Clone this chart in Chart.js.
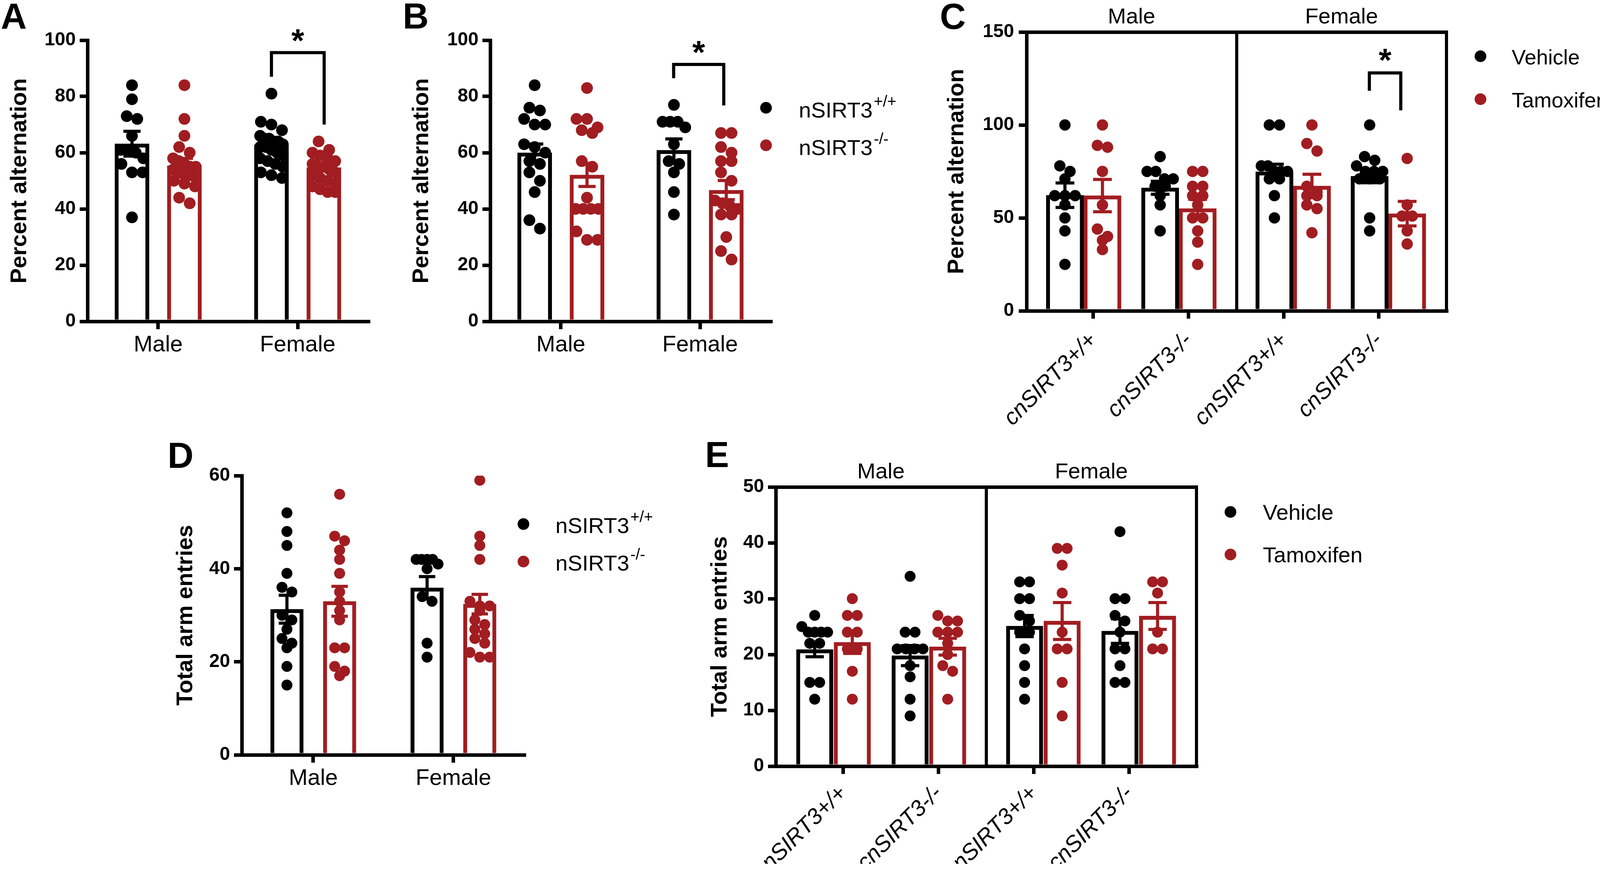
<!DOCTYPE html>
<html>
<head>
<meta charset="utf-8">
<script src="https://cdn.jsdelivr.net/npm/chart.js@4.4.1/dist/chart.umd.min.js"></script>
<style>
  html, body { margin: 0; padding: 0; background: #fff; }
  body { width: 4130px; height: 2256px; position: relative; overflow: hidden; font-family: 'Liberation Sans', Arial, sans-serif; }
  canvas { position: absolute; }
  .tag { position: absolute; font-weight: bold; font-size: 92px; line-height: 1; color: #000; }
</style>
</head>
<body>
<canvas id="chartA" style="left:0px;top:0px" width="960" height="960"></canvas>
<canvas id="chartB" style="left:1000px;top:0px" width="1340" height="960"></canvas>
<canvas id="chartC" style="left:2380px;top:0px" width="1750" height="1150"></canvas>
<canvas id="chartD" style="left:400px;top:1100px" width="1340" height="1100"></canvas>
<canvas id="chartE" style="left:1760px;top:1100px" width="1900" height="1156"></canvas>
<div class="tag" style="left:2px;top:-5px">A</div>
<div class="tag" style="left:1031px;top:-5px">B</div>
<div class="tag" style="left:2406px;top:-4px">C</div>
<div class="tag" style="left:429px;top:1120px">D</div>
<div class="tag" style="left:1805px;top:1118px">E</div>
<script>
const FONT = "'Liberation Sans', Arial, sans-serif";
const BLACK = '#000000';
const RED = '#a11d21';
Chart.defaults.font.family = FONT;
Chart.defaults.color = BLACK;

// ---------- labels ----------
const sexLabels = ['Male', 'Female'];
const genoLabels = ['cnSIRT3+/+', 'cnSIRT3-/-', 'cnSIRT3+/+', 'cnSIRT3-/-'];
const nLegend = ['nSIRT3', 'nSIRT3'];
const nLegendSup = ['+/+', '-/-'];
const cnLegend = ['Vehicle', 'Tamoxifen'];

// ---------- A: percent alternation, nSIRT3 (male, female) ----------
const aWtMean = [63.2, 62.8];
const aWtSem = [4.4, 1.3];
const aKoMean = [55.4, 54.7];
const aKoSem = [2.6, 1.2];
const aWtDots = [
  [84, 79, 73, 72, 66, 61, 61, 60, 58, 56, 53, 53, 37],
  [81, 71, 70, 68, 66, 65, 65, 64, 64, 63, 62, 62, 61, 60, 59, 58, 57, 56, 55, 53, 52, 51],
];
const aKoDots = [
  [84, 72, 66, 62, 60, 58, 57, 56, 55, 55, 54, 53, 52, 52, 51, 50, 49, 48, 44, 42],
  [64, 61, 60, 59, 58, 57, 56, 55, 55, 54, 53, 52, 51, 50, 49, 48, 47, 46, 46],
];
const aSig = { x1: 0.812, x2: 1.19, top: 95.6, left: 87, right: 70, star: 102.2 };

// ---------- B: percent alternation, nSIRT3 second cohort ----------
const bWtMean = [60.0, 60.9];
const bWtSem = [3.1, 4.0];
const bKoMean = [52.1, 46.7];
const bKoSem = [4.1, 3.4];
const bWtDots = [
  [84, 76, 75, 72, 70, 70, 63, 62, 60, 57, 56, 53, 50, 46, 36, 33],
  [77, 71, 71, 71, 69, 63, 57, 56, 53, 46, 38],
];
const bKoDots = [
  [83, 72, 72, 69, 68, 67, 57, 55, 44, 40, 40, 40, 40, 32, 29, 29],
  [67, 67, 62, 60, 57, 57, 53, 50, 43, 42, 41, 40, 38, 38, 30, 25, 22],
];
const bSig = { x1: 0.81, x2: 1.17, top: 91.4, left: 86.5, right: 76.8, star: 98.0 };

// ---------- C: percent alternation, cnSIRT3 vehicle / tamoxifen ----------
const cVehMean = [62.2, 66.2, 74.9, 72.4];
const cVehSem = [6.6, 3.5, 4.0, 3.5];
const cTamMean = [62.0, 55.1, 67.2, 52.3];
const cTamSem = [8.7, 4.9, 6.3, 6.6];
const cVehDots = [
  [100, 78, 75, 71, 62, 62, 62, 57, 50, 43, 25],
  [83, 75, 75, 71, 71, 67, 67, 62, 57, 43],
  [100, 100, 78, 78, 75, 75, 75, 71, 71, 62, 50],
  [100, 83, 81, 78, 75, 75, 75, 71, 71, 71, 50, 43],
];
const cTamDots = [
  [100, 89, 88, 75, 57, 44, 40, 38, 33],
  [75, 75, 67, 67, 62, 62, 57, 50, 50, 43, 37, 25],
  [100, 90, 86, 67, 64, 62, 62, 57, 55, 42],
  [82, 57, 51, 51, 43, 36],
];
const cSig = { x1: 2.90, x2: 3.23, top: 128, left: 118.4, right: 107.9, star: 138.5 };

// ---------- D: total arm entries, nSIRT3 ----------
const dWtMean = [31.3, 35.9];
const dWtSem = [3.0, 2.4];
const dKoMean = [33.0, 32.4];
const dKoSem = [3.2, 2.1];
const dWtDots = [
  [52, 48, 45, 39, 36, 35, 30, 29, 27, 25, 24, 23, 19, 15],
  [42, 42, 42, 42, 41, 40, 34, 33, 24, 21],
];
const dKoDots = [
  [56, 47, 46, 44, 42, 39, 35, 33, 31, 29, 23, 23, 19, 18, 17],
  [59, 47, 45, 42, 33, 32, 32, 31, 29, 28, 27, 26, 25, 24, 22, 21, 21],
];

// ---------- E: total arm entries, cnSIRT3 ----------
const eVehMean = [20.9, 19.8, 25.1, 24.2];
const eVehSem = [1.3, 1.8, 1.9, 2.2];
const eTamMean = [22.2, 21.4, 26.0, 26.9];
const eTamSem = [2.0, 1.5, 3.3, 2.4];
const eVehDots = [
  [27, 25, 24, 24, 24, 24, 22, 22, 15, 15, 12],
  [34, 24, 24, 21, 21, 21, 21, 18, 16, 12, 9],
  [33, 33, 30, 30, 27, 26, 24, 24, 21, 18, 15, 12],
  [42, 30, 30, 27, 26, 24, 21, 21, 18, 15, 15],
];
const eTamDots = [
  [30, 27, 27, 24, 24, 21, 21, 17, 12],
  [27, 26, 26, 24, 24, 24, 22, 20, 18, 17, 12],
  [39, 39, 36, 31, 24, 21, 21, 15, 9],
  [33, 33, 31, 24, 21, 21],
];

// bar centres on the x axis (side -1 = black, +1 = red)
const pos2 = (side) => sexLabels.map((_, i) => i + side * 0.188);
const pos4 = (side) => genoLabels.map((_, i) => i + (i < 2 ? -0.1 : 0.1) + side * 0.197);

// ---------- plugins ----------
const errorBars = {
  id: 'errorBars',
  afterDatasetsDraw(chart, args, o) {
    const { ctx, scales: { y } } = chart;
    chart.data.datasets.forEach((ds, i) => {
      if (!ds.sem) return;
      const meta = chart.getDatasetMeta(i);
      ctx.save();
      ctx.strokeStyle = ds.borderColor;
      ctx.lineWidth = o.width;
      meta.data.forEach((bar, j) => {
        const m = ds.data[j].y;
        const s = ds.sem[j];
        const hi = y.getPixelForValue(m + s);
        const lo = y.getPixelForValue(m - s);
        const half = o.cap / 2;
        ctx.beginPath();
        ctx.moveTo(bar.x, hi); ctx.lineTo(bar.x, lo);
        ctx.moveTo(bar.x - half, hi); ctx.lineTo(bar.x + half, hi);
        ctx.moveTo(bar.x - half, lo); ctx.lineTo(bar.x + half, lo);
        ctx.stroke();
      });
      ctx.restore();
    });
  },
};

// bracket + star between two bars
const sigBracket = {
  id: 'sigBracket',
  afterDraw(chart, args, o) {
    if (o.top === undefined) return;
    const { ctx, scales: { x, y } } = chart;
    const x1 = x.getPixelForValue(o.x1);
    const x2 = x.getPixelForValue(o.x2);
    const top = y.getPixelForValue(o.top);
    ctx.save();
    ctx.strokeStyle = BLACK;
    ctx.lineWidth = 8;
    ctx.beginPath();
    ctx.moveTo(x1, y.getPixelForValue(o.left));
    ctx.lineTo(x1, top);
    ctx.lineTo(x2, top);
    ctx.lineTo(x2, y.getPixelForValue(o.right));
    ctx.stroke();
    ctx.fillStyle = BLACK;
    ctx.font = `bold 84px ${FONT}`;
    ctx.textAlign = 'center';
    ctx.textBaseline = 'alphabetic';
    ctx.fillText('*', (x1 + x2) / 2, y.getPixelForValue(o.star) + 0.546 * 84);
    ctx.restore();
  },
};

// dot legend beside the plot, with optional superscript
const sideLegend = {
  id: 'sideLegend',
  afterDraw(chart, args, o) {
    if (!o.labels) return;
    const { ctx, chartArea } = chart;
    const x = chartArea.right + o.dx;
    o.labels.forEach((label, i) => {
      const y = chartArea.top + o.ys[i];
      ctx.save();
      ctx.fillStyle = o.colors[i];
      ctx.beginPath();
      ctx.arc(x, y, o.r, 0, Math.PI * 2);
      ctx.fill();
      ctx.fillStyle = BLACK;
      ctx.font = `${o.size}px ${FONT}`;
      ctx.textBaseline = 'alphabetic';
      const tx = x + o.textDx;
      const ty = y + o.baseDy;
      ctx.fillText(label, tx, ty);
      if (o.sups) {
        const w = ctx.measureText(label).width;
        ctx.font = `${o.supSize}px ${FONT}`;
        ctx.fillText(o.sups[i], tx + w + 3, ty - o.size * 0.5);
      }
      ctx.restore();
    });
  },
};

// ---------- axes ----------
function yAxis(max, step, title, width, pad) {
  return {
    min: 0,
    max: max,
    afterFit: (s) => { s.width = width; s.paddingTop = 0; s.paddingBottom = 0; },
    ticks: { stepSize: step, padding: pad, font: { size: 48, weight: 'bold' } },
    grid: { drawOnChartArea: false, tickLength: 20, lineWidth: 9, color: BLACK },
    border: { color: BLACK, width: 9 },
    title: { display: true, text: title, padding: 0, font: { size: 58, weight: 'bold' } },
  };
}

function xAxis(min, max, labels, height, rotate, pad) {
  return {
    type: 'linear',
    min: min,
    max: max,
    offset: false,
    afterBuildTicks: (s) => { s.ticks = labels.map((_, i) => ({ value: i })); },
    afterFit: (s) => { s.height = height; s.paddingLeft = 0; s.paddingRight = 0; },
    ticks: {
      autoSkip: false,
      padding: pad,
      minRotation: rotate,
      maxRotation: rotate,
      callback: (v) => labels[v],
      font: rotate ? { size: 58, style: 'italic' } : { size: 58 },
    },
    grid: { offset: false, drawOnChartArea: false, tickLength: 20, lineWidth: 9, color: BLACK },
    border: { color: BLACK, width: 9 },
  };
}

// Male / Female header above the boxed panels; grid lines give the frame and divider
function topAxis(labels, height) {
  return {
    type: 'category',
    position: 'top',
    labels: labels,
    offset: true,
    afterFit: (s) => { s.height = height; s.paddingLeft = 0; s.paddingRight = 0; },
    ticks: { padding: 4, font: { size: 56 } },
    grid: { offset: true, drawTicks: false, lineWidth: 8, color: BLACK },
    border: { color: BLACK, width: 9 },
  };
}

// ---------- datasets ----------
function bars(centres, means, sems, color, thick) {
  return {
    type: 'bar',
    data: centres.map((x, i) => ({ x: x, y: means[i] })),
    sem: sems,
    backgroundColor: '#ffffff',
    borderColor: color,
    borderWidth: 10,
    barThickness: thick,
    grouped: false,
    order: 3,
  };
}

function dots(centres, groups, color, r) {
  return {
    type: 'scatter',
    data: [],
    centres: centres,
    groups: groups,
    backgroundColor: color,
    borderWidth: 0,
    pointRadius: r,
    order: 1,
  };
}

// lay dots out in rows around each bar centre
function swarm(chart, r, spread) {
  const xs = chart.scales.x;
  const ys = chart.scales.y;
  const gap = r * 1.8;
  const rowH = r * 1.6;
  chart.data.datasets.forEach((ds) => {
    if (!ds.groups) return;
    const pts = [];
    ds.groups.forEach((vals, g) => {
      const cx = xs.getPixelForValue(ds.centres[g]);
      const sorted = vals.slice().sort((a, b) => b - a);
      let row = [];
      let rowTop = null;
      const flush = () => {
        const n = row.length;
        const step = n > 1 ? Math.min(gap, (2 * spread) / (n - 1)) : 0;
        row.forEach((v, k) => {
          pts.push({ x: xs.getValueForPixel(cx + (k - (n - 1) / 2) * step), y: v });
        });
        row = [];
      };
      sorted.forEach((v) => {
        const py = ys.getPixelForValue(v);
        if (rowTop !== null && py - rowTop > rowH) flush();
        if (!row.length) rowTop = py;
        row.push(v);
      });
      flush();
    });
    ds.data = pts;
  });
  chart.update('none');
}

function buildPanel(id, p) {
  const scales = {
    x: xAxis(p.xMin, p.xMax, p.ticks, p.xH, p.rotate, p.xPad),
    y: yAxis(p.yMax, p.step, p.title, p.yW, p.yPad),
  };
  if (p.header) scales.x2 = topAxis(p.header, p.topH);
  const chart = new Chart(document.getElementById(id), {
    type: 'bar',
    data: {
      datasets: [
        bars(p.pos[0], p.means[0], p.sems[0], BLACK, p.barW),
        bars(p.pos[1], p.means[1], p.sems[1], RED, p.barW),
        dots(p.pos[0], p.dots[0], BLACK, p.r),
        dots(p.pos[1], p.dots[1], RED, p.r),
      ],
    },
    options: {
      responsive: false,
      devicePixelRatio: 1,
      animation: false,
      layout: { padding: p.padding },
      plugins: {
        legend: { display: false },
        tooltip: { enabled: false },
        errorBars: { width: 8, cap: p.barW / 2 },
        sigBracket: p.sig || false,
        sideLegend: p.legend || false,
      },
      scales: scales,
    },
    plugins: [errorBars, sigBracket, sideLegend],
  });
  swarm(chart, p.r, p.barW / 2 - p.r);
  return chart;
}

// ---------- panels ----------
buildPanel('chartA', {
  padding: { left: 16, top: 103, right: 17, bottom: 37 },
  yW: 208, yPad: 10, xH: 100, xPad: 6, rotate: 0,
  xMin: -0.507, xMax: 1.507, ticks: sexLabels,
  yMax: 100, step: 20, title: 'Percent alternation',
  pos: [pos2(-1), pos2(1)], means: [aWtMean, aKoMean], sems: [aWtSem, aKoSem],
  dots: [aWtDots, aKoDots], barW: 88, r: 15, sig: aSig,
});

buildPanel('chartB', {
  padding: { left: 45, top: 103, right: 367, bottom: 37 },
  yW: 210, yPad: 10, xH: 100, xPad: 6, rotate: 0,
  xMin: -0.507, xMax: 1.507, ticks: sexLabels,
  yMax: 100, step: 20, title: 'Percent alternation',
  pos: [pos2(-1), pos2(1)], means: [bWtMean, bKoMean], sems: [bWtSem, bKoSem],
  dots: [bWtDots, bKoDots], barW: 88, r: 15, sig: bSig,
  legend: { labels: nLegend, sups: nLegendSup, colors: [BLACK, RED], dx: -12, ys: [173, 269],
    r: 15, textDx: 84, baseDy: 25, size: 56, supSize: 40 },
});

buildPanel('chartC', {
  padding: { left: 35, top: 0, right: 427, bottom: 54 },
  yW: 213, yPad: 12, xH: 300, xPad: 22, rotate: 45, topH: 82, header: sexLabels,
  xMin: -0.70, xMax: 3.71, ticks: genoLabels,
  yMax: 150, step: 50, title: 'Percent alternation',
  pos: [pos4(-1), pos4(1)], means: [cVehMean, cTamMean], sems: [cVehSem, cTamSem],
  dots: [cVehDots, cTamDots], barW: 96, r: 14.5, sig: cSig,
  legend: { labels: cnLegend, colors: [BLACK, RED], dx: 87, ys: [62, 172],
    r: 15, textDx: 80, baseDy: 21, size: 54 },
});

buildPanel('chartD', {
  padding: { left: 41, top: 118, right: 398, bottom: 167 },
  yW: 178, yPad: 10, xH: 100, xPad: 6, rotate: 0,
  xMin: -0.51, xMax: 1.505, ticks: sexLabels,
  yMax: 60, step: 20, title: 'Total arm entries',
  pos: [pos2(-1), pos2(1)], means: [dWtMean, dKoMean], sems: [dWtSem, dKoSem],
  dots: [dWtDots, dKoDots], barW: 84, r: 14,
  legend: { labels: nLegend, sups: nLegendSup, colors: [BLACK, RED], dx: -2, ys: [124, 220],
    r: 15, textDx: 82, baseDy: 23, size: 56, supSize: 40 },
});

buildPanel('chartE', {
  padding: { left: 49, top: 0, right: 597, bottom: 44 },
  yW: 177, yPad: 10, xH: 250, xPad: 16, rotate: 45, topH: 147, header: sexLabels,
  xMin: -0.705, xMax: 3.705, ticks: genoLabels,
  yMax: 50, step: 10, title: 'Total arm entries',
  pos: [pos4(-1), pos4(1)], means: [eVehMean, eTamMean], sems: [eVehSem, eTamSem],
  dots: [eVehDots, eTamDots], barW: 94, r: 14,
  legend: { labels: cnLegend, colors: [BLACK, RED], dx: 87, ys: [64, 173],
    r: 15, textDx: 83, baseDy: 20, size: 56 },
});
</script>
</body>
</html>
